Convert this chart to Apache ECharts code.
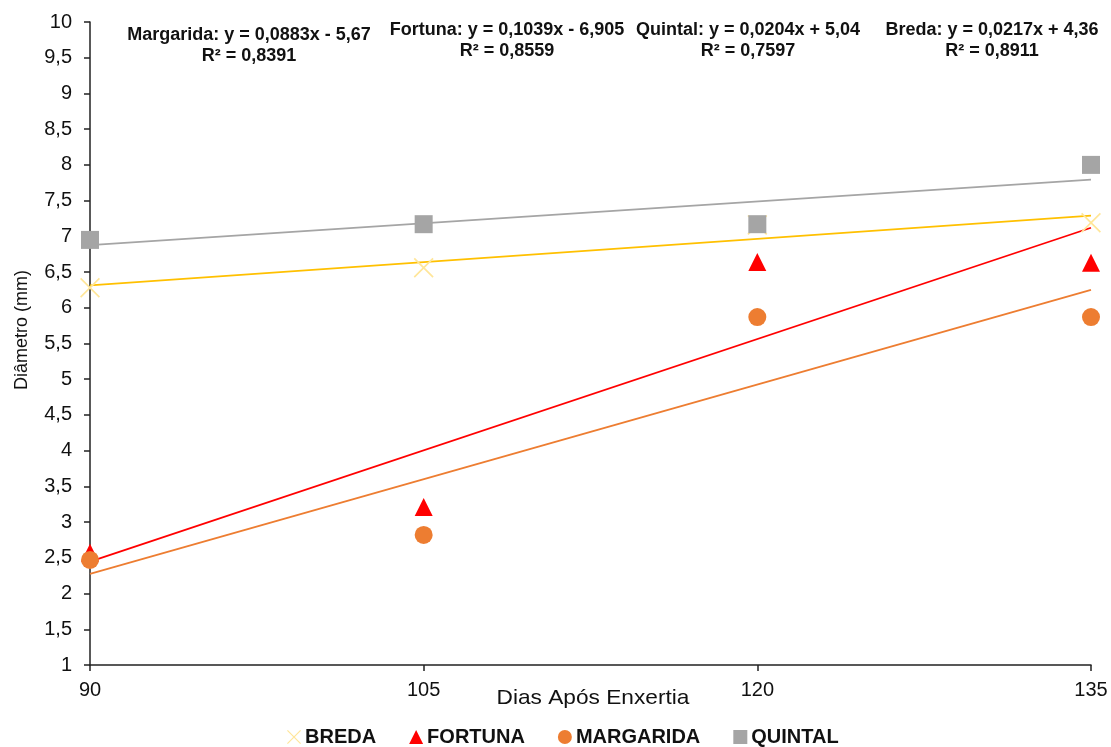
<!DOCTYPE html>
<html><head><meta charset="utf-8">
<script src="https://cdn.jsdelivr.net/npm/echarts@6/dist/echarts.min.js"></script>
<style>html,body{margin:0;padding:0;background:#fff}#c{width:1111px;height:747px}</style>
</head><body><div id="c"></div>
<script>
const days = [90, 105, 120, 135];
const breda = [6.28, 6.56, 7.16, 7.19];
const fortuna = [2.57, 3.21, 6.64, 6.63];
const margarida = [2.47, 2.82, 5.87, 5.87];
const quintal = [6.95, 7.17, 7.17, 8.0];
const trendX = [90, 135];
const bredaTrend = [6.313, 7.29];
const fortunaTrend = [2.446, 7.12];
const margaridaTrend = [2.277, 6.25];
const quintalTrend = [6.876, 7.794];
const yTicks = {min: 1, max: 10, interval: 0.5};
const annotations = [
  ['Margarida: y = 0,0883x - 5,67', 'R² = 0,8391'],
  ['Fortuna: y = 0,1039x - 6,905', 'R² = 0,8559'],
  ['Quintal: y = 0,0204x + 5,04', 'R² = 0,7597'],
  ['Breda: y = 0,0217x + 4,36', 'R² = 0,8911']
];

const pair = (xs, ys) => xs.map((x, i) => [x, ys[i]]);
const crossPath = 'path://M0,0.6 L0.6,0 L10,9.4 L9.4,10 Z M9.4,0 L10,0.6 L0.6,10 L0,9.4 Z';
const chart = echarts.init(document.getElementById('c'));
const FONT = '"Liberation Sans", Arial, sans-serif';
const annoPos = [[249, 35], [507, 30], [748, 30], [992, 30]];
const graphics = [];
annotations.forEach((a, i) => {
  const [x, y] = annoPos[i];
  graphics.push({type: 'text', x: x, y: y,
    style: {text: a[0], x: 0, y: 0, align: 'center', verticalAlign: 'middle', fill: '#111', font: 'bold 18px ' + FONT}});
  graphics.push({type: 'text', x: x, y: y + 21,
    style: {text: a[1], x: 0, y: 0, align: 'center', verticalAlign: 'middle', fill: '#111', font: 'bold 18px ' + FONT}});
});
graphics.push({type: 'text', x: 593, y: 698, scaleX: 1.08,
  style: {text: 'Dias Após Enxertia', x: 0, y: 0, align: 'center', verticalAlign: 'middle', fill: '#111', font: '21px ' + FONT}});
graphics.push({type: 'text', x: 22, y: 330, rotation: Math.PI / 2,
  style: {text: 'Diâmetro (mm)', x: 0, y: 0, align: 'center', verticalAlign: 'middle', fill: '#111', font: '18px ' + FONT}});

function trend(name, data, color) {
  return {name: name, type: 'line', data: pair(trendX, data), symbol: 'none', silent: true,
    lineStyle: {color: color, width: 1.8}, z: 1};
}
function sc(name, data, symbol, color, size) {
  return {name: name, type: 'scatter', data: pair(days, data), symbol: symbol, symbolSize: size,
    itemStyle: {color: color, opacity: 1}, z: 3};
}

chart.setOption({
  animation: false,
  textStyle: {fontFamily: FONT},
  grid: {left: 90, right: 20, top: 22, bottom: 82, containLabel: false},
  xAxis: {type: 'value', min: 90, max: 135, interval: 15,
    axisLine: {lineStyle: {color: '#222', width: 1.5}},
    axisTick: {show: true, length: 6, lineStyle: {color: '#222', width: 1.5}},
    axisLabel: {color: '#111', fontSize: 20, margin: 15, fontFamily: FONT},
    splitLine: {show: false}},
  yAxis: {type: 'value', min: yTicks.min, max: yTicks.max, interval: yTicks.interval,
    axisLine: {show: true, lineStyle: {color: '#222', width: 1.5}},
    axisTick: {show: true, length: 6, lineStyle: {color: '#222', width: 1.5}},
    axisLabel: {color: '#111', fontSize: 20, margin: 18, fontFamily: FONT,
      formatter: v => String(v).replace('.', ',')},
    splitLine: {show: false}},
  legend: {top: 727, left: 287, padding: 0, itemGap: 33, itemWidth: 14, itemHeight: 14,
    textStyle: {fontSize: 20, fontWeight: 'bold', color: '#111', fontFamily: FONT, padding: [0,0,0,-1]},
    data: ['BREDA', 'FORTUNA', 'MARGARIDA', 'QUINTAL']},
  graphic: graphics,
  series: [
    trend('tq', quintalTrend, '#A5A5A5'),
    trend('tb', bredaTrend, '#FFC000'),
    trend('tf', fortunaTrend, '#FF0000'),
    trend('tm', margaridaTrend, '#ED7D31'),
    sc('BREDA', breda, crossPath, '#FFE699', 20),
    sc('FORTUNA', fortuna, 'triangle', '#FF0000', 18),
    sc('MARGARIDA', margarida, 'circle', '#ED7D31', 18),
    sc('QUINTAL', quintal, 'rect', '#A5A5A5', 18)
  ]
});
</script></body></html>
